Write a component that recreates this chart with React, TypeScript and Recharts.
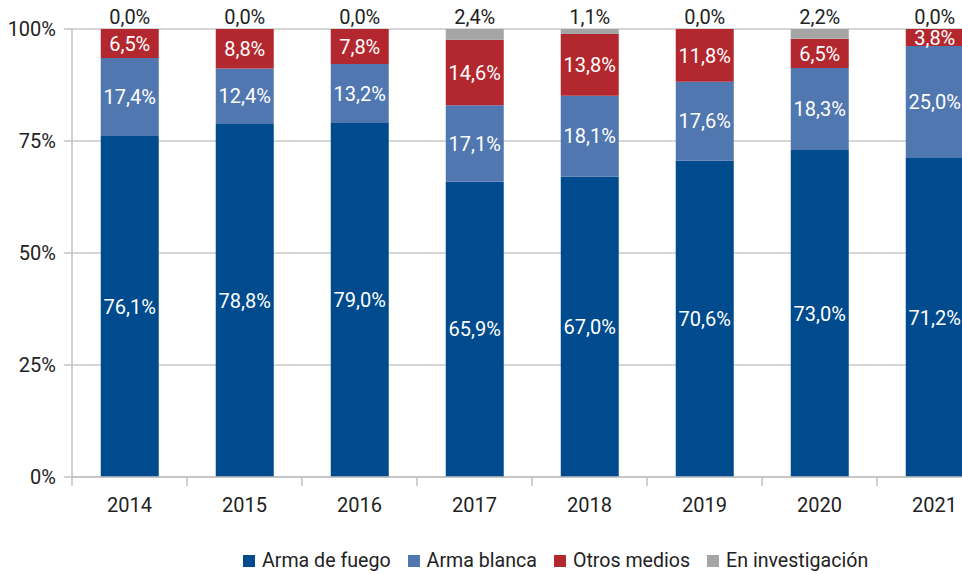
import { BarChart, Bar, XAxis, YAxis, CartesianGrid, LabelList } from 'recharts';

const years = ['2014', '2015', '2016', '2017', '2018', '2019', '2020', '2021'];
const armaFuego = [76.1, 78.8, 79.0, 65.9, 67.0, 70.6, 73.0, 71.2];
const armaBlanca = [17.4, 12.4, 13.2, 17.1, 18.1, 17.6, 18.3, 25.0];
const otrosMedios = [6.5, 8.8, 7.8, 14.6, 13.8, 11.8, 6.5, 3.8];
const enInvestigacion = [0.0, 0.0, 0.0, 2.4, 1.1, 0.0, 2.2, 0.0];
const yTicks = [0, 25, 50, 75, 100];

const series = [
  { key: 'fuego', name: 'Arma de fuego', color: '#004b8d', values: armaFuego },
  { key: 'blanca', name: 'Arma blanca', color: '#5177b0', values: armaBlanca },
  { key: 'otros', name: 'Otros medios', color: '#b3282f', values: otrosMedios },
  { key: 'invest', name: 'En investigación', color: '#a5a5a5', values: enInvestigacion },
];

const data = years.map((year, i) => {
  const row: Record<string, any> = { year };
  series.forEach((s) => (row[s.key] = s.values[i]));
  return row;
});

const FONT = 'Roboto, "Noto Sans", sans-serif';
const FS = 20;
const CHART_W = 1000;
const CHART_H = 574;
const MARGIN = { top: 29, right: 8, left: 0, bottom: 67 };
const Y_AXIS_W = 72;
const BAND = (CHART_W - MARGIN.right - MARGIN.left - Y_AXIS_W) / years.length;
const AXIS_Y = CHART_H - MARGIN.bottom - 30;

const fmt = (v: any) => Number(v).toFixed(1).replace('.', ',') + '%';

function XTick(props: any) {
  const { x, payload } = props;
  const left = x - BAND / 2;
  return (
    <g>
      <line x1={left} x2={left} y1={AXIS_Y} y2={AXIS_Y + 9} stroke="#c0c0c0" strokeWidth={1.5} />
      <text x={x} y={AXIS_Y + 30} textAnchor="middle" dominantBaseline="middle" fill="#222" fontSize={FS} fontFamily={FONT}>
        {payload.value}
      </text>
    </g>
  );
}

export default function App() {
  return (
    <div style={{ position: 'fixed', left: 0, top: 0, width: 962, height: 574, overflow: 'hidden', background: '#fff', fontFamily: FONT }}>
      <BarChart width={CHART_W} height={CHART_H} data={data} margin={MARGIN} barCategoryGap="25%">
        <CartesianGrid vertical={false} stroke="#c8c8c8" strokeWidth={1.5} />
        <XAxis
          dataKey="year"
          height={30}
          tickLine={false}
          axisLine={{ stroke: '#c0c0c0', strokeWidth: 1.5 }}
          tick={<XTick />}
          interval={0}
        />
        <YAxis
          width={Y_AXIS_W}
          domain={[0, 100]}
          ticks={yTicks}
          tickFormatter={(v) => v + '%'}
          tickSize={8}
          tickMargin={8}
          tickLine={{ stroke: '#c0c0c0', strokeWidth: 1.5 }}
          axisLine={{ stroke: '#c0c0c0', strokeWidth: 1.5 }}
          tick={{ fill: '#222', fontSize: FS, fontFamily: FONT }}
        />
        {series.map((s, idx) => (
          <Bar
            key={s.key}
            dataKey={s.key}
            name={s.name}
            stackId="a"
            fill={s.color}
            minPointSize={idx === 3 ? 0.01 : 0}
            isAnimationActive={false}
          >
            {idx < 3 ? (
              <LabelList dataKey={s.key} position="center" formatter={fmt} fill="#fff" fontSize={FS} fontFamily={FONT} />
            ) : (
              <LabelList dataKey={s.key} position="top" offset={5} formatter={fmt} fill="#222" fontSize={FS} fontFamily={FONT} />
            )}
          </Bar>
        ))}
      </BarChart>
      <div style={{ position: 'absolute', left: 243, top: 549, display: 'flex', alignItems: 'center', fontSize: 19.6, color: '#222', whiteSpace: 'nowrap' }}>
        {series.map((s) => (
          <div key={s.key} style={{ display: 'flex', alignItems: 'center', marginRight: 17 }}>
            <span style={{ display: 'inline-block', width: 12, height: 12, background: s.color, marginRight: 7 }} />
            <span>{s.name}</span>
          </div>
        ))}
      </div>
    </div>
  );
}
